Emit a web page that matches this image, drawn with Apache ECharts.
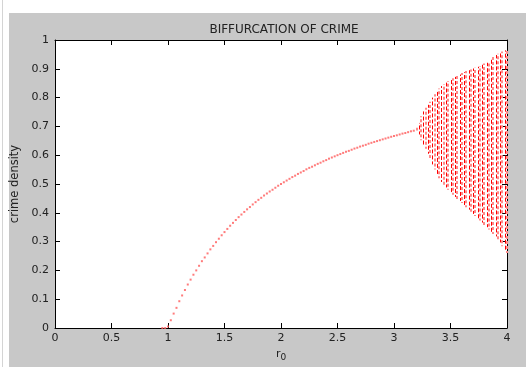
<!DOCTYPE html>
<html>
<head>
<meta charset="utf-8">
<script src="https://cdn.jsdelivr.net/npm/echarts@6/dist/echarts.min.js"></script>
<style>
html,body{margin:0;padding:0;background:#fff;}
#chart{width:526px;height:367px;}
</style>
</head>
<body>
<div id="chart"></div>
<script>
// Stable branch (r0, crime density)
var curveR = [0.95,0.975,1.0,1.025,1.05,1.075,1.1,1.125,1.15,1.175,1.2,1.225,1.25,1.275,1.3,1.325,1.35,1.375,1.4,1.425,1.45,1.475,1.5,1.525,1.55,1.575,1.6,1.625,1.65,1.675,1.7,1.725,1.75,1.775,1.8,1.825,1.85,1.875,1.9,1.925,1.95,1.975,2.0,2.025,2.05,2.075,2.1,2.125,2.15,2.175,2.2,2.225,2.25,2.275,2.3,2.325,2.35,2.375,2.4,2.425,2.45,2.475,2.5,2.525,2.55,2.575,2.6,2.625,2.65,2.675,2.7,2.725,2.75,2.775,2.8,2.825,2.85,2.875,2.9,2.925,2.95,2.975,3.0,3.025,3.05,3.075,3.1,3.125,3.15,3.175];
var curveY = [0,0,0.005,0.027,0.05,0.07,0.093,0.113,0.132,0.151,0.168,0.185,0.2,0.216,0.232,0.245,0.259,0.273,0.285,0.298,0.31,0.322,0.333,0.344,0.355,0.365,0.375,0.385,0.394,0.403,0.412,0.42,0.429,0.437,0.445,0.452,0.46,0.467,0.474,0.48,0.487,0.494,0.5,0.506,0.512,0.518,0.524,0.529,0.535,0.54,0.545,0.551,0.556,0.56,0.565,0.57,0.574,0.579,0.583,0.588,0.592,0.596,0.6,0.604,0.608,0.612,0.615,0.619,0.623,0.626,0.63,0.633,0.636,0.64,0.643,0.646,0.649,0.652,0.655,0.658,0.661,0.664,0.667,0.669,0.672,0.675,0.677,0.68,0.683,0.685];

// Bifurcation / chaotic region: column r0, lowest and highest density seen
var chaosR   = [3.20,3.22,3.24,3.26,3.28,3.30,3.32,3.34,3.36,3.38,3.40,3.42,3.44,3.46,3.48,3.50,3.52,3.54,3.56,3.58,3.60,3.62,3.64,3.66,3.68,3.70,3.72,3.74,3.76,3.78,3.80,3.82,3.84,3.86,3.88,3.90,3.92,3.94,3.96,3.98,4.00];
var chaosTop = [0.695,0.712,0.735,0.752,0.765,0.775,0.786,0.800,0.812,0.822,0.832,0.840,0.846,0.852,0.858,0.863,0.867,0.872,0.876,0.880,0.885,0.888,0.892,0.895,0.898,0.901,0.904,0.907,0.910,0.914,0.918,0.921,0.925,0.932,0.942,0.948,0.952,0.956,0.960,0.964,0.966];
var chaosBot = [0.686,0.672,0.652,0.637,0.622,0.605,0.590,0.568,0.550,0.535,0.520,0.507,0.497,0.488,0.480,0.472,0.463,0.455,0.448,0.441,0.434,0.427,0.419,0.411,0.404,0.396,0.389,0.381,0.373,0.366,0.358,0.350,0.342,0.334,0.326,0.318,0.308,0.297,0.284,0.272,0.260];

var xTicks = [0,0.5,1,1.5,2,2.5,3,3.5,4];
var yTicks = [0,0.1,0.2,0.3,0.4,0.5,0.6,0.7,0.8,0.9,1];

var curveData = curveR.map(function(r,i){return [r,curveY[i]];});
var chaosData = chaosR.map(function(r,i){return [r,chaosBot[i],chaosTop[i]];});

var chart = echarts.init(document.getElementById('chart'), null, {renderer:'canvas'});
var font = 'DejaVu Sans, Verdana, sans-serif';
var tickStyle = {show:true, inside:true, length:5, lineStyle:{color:'#000',width:1}};
var lineStyle = {show:true, lineStyle:{color:'#000',width:1}, onZero:false};

chart.setOption({
  animation:false,
  backgroundColor:'#ffffff',
  graphic:[
    {type:'rect', shape:{x:9,y:13,width:517,height:354}, style:{fill:'#c8c8c8'}, z:-10},
    {type:'line', shape:{x1:2.5,y1:0,x2:2.5,y2:367}, style:{stroke:'#d4d4d4',lineWidth:1}, z:-10}
  ],
  title:{
    text:'BIFFURCATION OF CRIME', left:279, top:19, textAlign:'center',
    textStyle:{fontFamily:font, fontSize:12, fontWeight:'normal', color:'#222'}
  },
  grid:{left:55, right:19, top:40, bottom:34, show:true, backgroundColor:'#ffffff', borderWidth:0},
  xAxis:[
    {type:'value', min:0, max:4, interval:0.5, position:'bottom',
     axisLine:lineStyle, axisTick:tickStyle, splitLine:{show:false},
     axisLabel:{fontFamily:font, fontSize:11, color:'#222', margin:5,
       formatter:function(v){return xTicks.indexOf(v)>=0 ? String(v) : '';}},
     name:'{a|r}{b|0}', nameLocation:'middle', nameGap:19,
     nameTextStyle:{rich:{a:{fontFamily:font,fontSize:11,color:'#222'},b:{fontFamily:font,fontSize:9,color:'#222',verticalAlign:'bottom',padding:[6,0,0,0]}}}
    },
    {type:'value', min:0, max:4, interval:0.5, position:'top',
     axisLine:lineStyle, axisTick:tickStyle, axisLabel:{show:false}, splitLine:{show:false}}
  ],
  yAxis:[
    {type:'value', min:0, max:1, interval:0.1, position:'left',
     axisLine:lineStyle, axisTick:tickStyle, splitLine:{show:false},
     axisLabel:{fontFamily:font, fontSize:11, color:'#222', margin:6,
       formatter:function(v){var s=+v.toFixed(1); return yTicks.indexOf(s)>=0 ? String(s) : '';}},
     name:'crime density', nameLocation:'middle', nameGap:31, nameRotate:90,
     nameTextStyle:{fontFamily:font, fontSize:11.5, color:'#222'}
    },
    {type:'value', min:0, max:1, interval:0.1, position:'right',
     axisLine:lineStyle, axisTick:tickStyle, axisLabel:{show:false}, splitLine:{show:false}}
  ],
  series:[
    {type:'scatter', data:curveData, symbol:'rect', symbolSize:2,
     itemStyle:{color:'#ff5a5a'}, z:3},
    {type:'custom', data:chaosData, z:3,
     renderItem:function(params, api){
       var r=api.value(0), lo=api.value(1), hi=api.value(2);
       var p1=api.coord([r,lo]), p2=api.coord([r,hi]);
       var odd = params.dataIndex % 2 === 1;
       var x = Math.round(p1[0]) + (odd ? 0.5 : 0);
       return {type:'line', shape:{x1:x,y1:p1[1],x2:x,y2:p2[1]},
         style:{stroke: odd ? '#ff0000' : '#ff8a8a', lineWidth: odd ? 1 : 2,
                lineDash: odd ? [4,2] : [3,2], lineDashOffset: (params.dataIndex % 3)}};
     }}
  ]
});
</script>
</body>
</html>
